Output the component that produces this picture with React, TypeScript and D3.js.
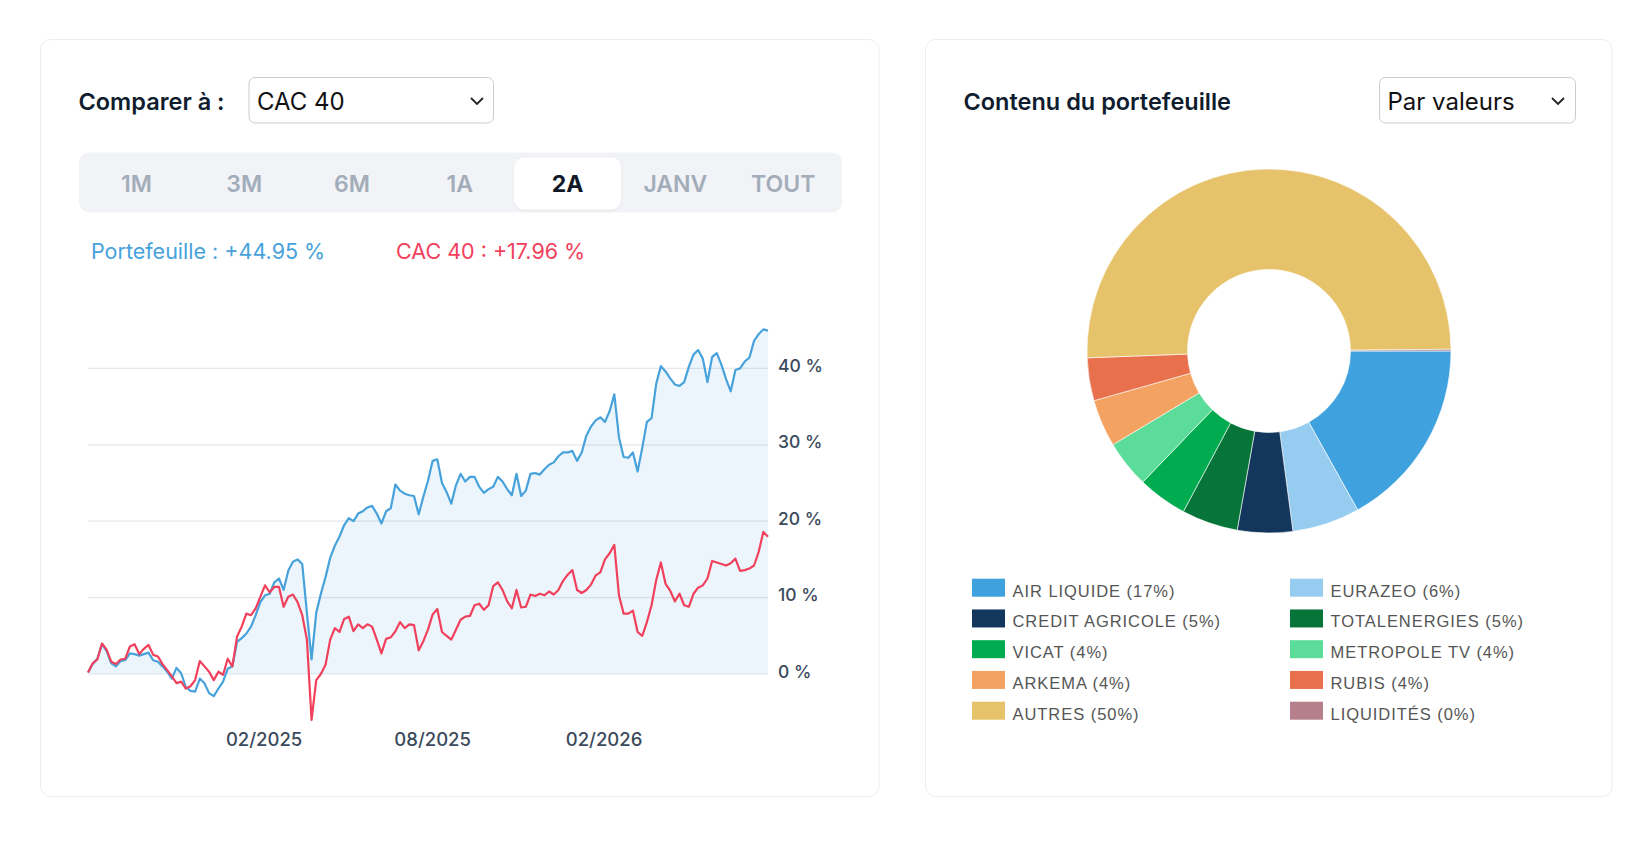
import * as d3 from 'd3';

// Performance sur 2 ans (en %), un point tous les 5 jours
const START = new Date(2024, 6, 27);
const STEP_DAYS = 5;

const portfolio = [
  0.2, 1.3, 2.0, 3.9, 3.0, 1.4, 1.0, 1.7, 1.8, 2.7,
  2.6, 2.4, 2.6, 2.8, 1.8, 1.6, 1.0, 0.3, -0.6, 0.8,
  0.1, -1.7, -2.2, -2.3, -0.6, -1.2, -2.5, -2.9, -1.9, -1.0,
  0.7, 1.0, 4.2, 4.7, 5.3, 6.2, 7.7, 9.4, 10.3, 10.5,
  12.0, 12.5, 11.0, 13.5, 14.7, 15.0, 14.4, 8.0, 1.9, 8.0,
  10.5, 12.7, 15.2, 16.8, 18.0, 19.5, 20.4, 20.0, 21.0, 21.3,
  21.8, 22.0, 21.0, 19.7, 21.3, 21.7, 24.8, 24.0, 23.6, 23.4,
  23.3, 20.9, 23.2, 25.3, 27.9, 28.1, 25.0, 23.8, 22.3, 24.7,
  26.2, 25.2, 25.8, 25.8, 24.5, 23.7, 24.2, 24.5, 25.8, 25.2,
  24.2, 23.4, 26.2, 23.3, 24.0, 26.2, 26.3, 26.1, 26.8, 27.4,
  27.7, 28.5, 29.0, 29.0, 29.2, 27.9, 29.0, 31.2, 32.4, 33.2,
  33.6, 33.0, 34.4, 36.6, 31.0, 28.4, 28.3, 29.0, 26.5, 29.6,
  33.0, 33.5, 38.0, 40.3, 39.6, 38.7, 37.9, 37.7, 38.2, 40.2,
  41.8, 42.4, 41.3, 38.2, 41.5, 42.0, 40.5, 38.6, 37.0, 39.8,
  40.0, 40.9, 41.4, 43.6, 44.5, 45.1, 44.95,
];

const cac40 = [
  0.2, 1.4, 1.9, 4.0, 3.2, 1.6, 1.3, 1.9, 2.0, 3.6,
  3.9, 2.6, 3.3, 3.8, 2.5, 2.3, 1.3, 0.5, -0.3, -1.2,
  -1.0, -1.9, -1.6, -0.8, 1.7, 1.0, 0.3, -0.8, 0.3, -0.1,
  2.0, 1.0, 4.9, 6.2, 7.9, 7.7, 8.6, 10.1, 11.6, 10.7,
  11.4, 11.4, 8.8, 10.1, 10.4, 9.4, 7.7, 4.5, -6.0, -0.8,
  0.0, 1.2, 4.5, 6.0, 5.5, 7.2, 7.5, 5.6, 6.5, 6.0,
  6.5, 6.2, 4.5, 2.7, 4.6, 4.8, 5.6, 6.8, 6.0, 6.5,
  6.4, 3.1, 4.3, 5.8, 7.8, 8.5, 5.5, 5.0, 4.5, 5.8,
  7.1, 7.5, 7.6, 9.0, 9.2, 8.4, 9.0, 11.5, 12.0, 11.0,
  9.5, 8.6, 11.0, 8.7, 8.8, 10.4, 10.2, 10.5, 10.3, 10.8,
  10.4, 11.0, 12.2, 13.0, 13.6, 11.0, 10.6, 11.0, 11.7, 12.9,
  13.3, 15.0, 15.8, 16.9, 10.3, 7.9, 7.9, 8.3, 5.5, 5.0,
  6.8, 9.0, 12.3, 14.6, 11.8, 10.9, 9.5, 10.5, 9.0, 8.8,
  10.5, 11.3, 11.6, 12.5, 14.8, 14.6, 14.4, 14.2, 14.5, 15.1,
  13.5, 13.6, 13.8, 14.2, 16.0, 18.6, 17.96,
];

const xTicks = [new Date(2025, 1, 1), new Date(2025, 7, 1), new Date(2026, 1, 1)];
const yTicks = [0, 10, 20, 30, 40];

const periods = ['1M', '3M', '6M', '1A', '2A', 'JANV', 'TOUT'];
const activePeriod = '2A';

const holdings = [
  'AIR LIQUIDE', 'EURAZEO', 'CREDIT AGRICOLE', 'TOTALENERGIES', 'VICAT',
  'METROPOLE TV', 'ARKEMA', 'RUBIS', 'AUTRES', 'LIQUIDITÉS',
];
const weights = [16.9, 6.0, 4.9, 5.0, 4.4, 4.2, 4.2, 3.8, 50.45, 0.15];
const palette = [
  '#3fa1de', '#96ccf0', '#13365c', '#07753a', '#00ac4f',
  '#5cdc99', '#f4a261', '#e8704d', '#e6c36a', '#b5808b',
];

const BLUE = '#47a2dc';
const RED = '#f1405c';
const FONT = 'Inter, "Noto Sans", sans-serif';

type Pt = { date: Date; v: number };

export default function App() {
  const dates = portfolio.map((_, i) => d3.timeDay.offset(START, i * STEP_DAYS));
  const pf: Pt[] = portfolio.map((v, i) => ({ date: dates[i], v }));
  const cac: Pt[] = cac40.map((v, i) => ({ date: dates[i], v }));

  const x = d3.scaleTime()
    .domain([dates[0], dates[dates.length - 1]])
    .range([88, 768]);
  const y = d3.scaleLinear().domain([0, 40]).range([674, 368.4]);

  const line = d3.line<Pt>().x(d => x(d.date)).y(d => y(d.v));
  const area = d3.area<Pt>().x(d => x(d.date)).y0(y(0)).y1(d => y(d.v));

  const fmtPct = (v: number) => `${d3.format('+.2f')(v)} %`;

  // donut
  const pie = d3.pie<number>().sort(null)
    .startAngle(Math.PI / 2).endAngle(Math.PI / 2 + 2 * Math.PI);
  const arcs = pie(weights);
  const arc = d3.arc<d3.PieArcDatum<number>>().innerRadius(81.5).outerRadius(182);

  const tabW = 107.8;
  const tabX0 = 82.5;

  return (
    <div style={{ position: 'absolute', left: 0, top: 0 }}>
      <svg width={1648} height={842} style={{ display: 'block', fontFamily: FONT }}>
        <defs>
          <clipPath id="above-zero">
            <rect x={88} y={0} width={682} height={y(0)} />
          </clipPath>
          <filter id="tab-shadow" x="-10%" y="-20%" width="120%" height="150%">
            <feDropShadow dx="0" dy="1" stdDeviation="1.2" floodColor="#000" floodOpacity="0.06" />
          </filter>
        </defs>
        <rect width={1648} height={842} fill="#fff" />

        {/* Carte gauche */}
        <rect x={40.5} y={39.5} width={838.5} height={757} rx={10} fill="#fff" stroke="#eceef0" />
        <text x={78.5} y={110} fontSize={23.5} fontWeight={600} fill="#0f1c2e">Comparer à :</text>
        <rect x={249} y={77.5} width={244.5} height={45.5} rx={6} fill="#fff" stroke="#c9cdd2" />
        <text x={257} y={109.5} fontSize={24} fill="#111">CAC 40</text>
        <path d="M471 98 L477 104 L483 98" fill="none" stroke="#222" strokeWidth={1.8} />

        {/* Périodes */}
        <rect x={79} y={152.5} width={763} height={60} rx={10} fill="#f1f3f6" />
        {periods.map((p, i) => {
          const cx = tabX0 + tabW * i + tabW / 2;
          const active = p === activePeriod;
          return (
            <g key={p}>
              {active && (
                <rect x={cx - 53.5} y={157.5} width={107} height={52} rx={10} fill="#fff" filter="url(#tab-shadow)" />
              )}
              <text x={cx} y={191.5} textAnchor="middle" fontSize={23}
                fontWeight={active ? 700 : 600} fill={active ? '#101828' : '#a3adba'}>{p}</text>
            </g>
          );
        })}

        {/* Légende du graphique */}
        <text x={91} y={259} fontSize={21.5} fill={BLUE}>
          Portefeuille : {fmtPct(portfolio[portfolio.length - 1])}
        </text>
        <text x={396} y={259} fontSize={21.5} fill={RED}>
          CAC 40 : {fmtPct(cac40[cac40.length - 1])}
        </text>

        {/* Grille */}
        {yTicks.map(t => (
          <g key={t}>
            <line x1={88} x2={768} y1={y(t)} y2={y(t)} stroke="#e6e8eb" strokeWidth={1.2} />
            <text x={778} y={y(t) + 3.5} fontSize={17.5} fontWeight={500} fill="#3b4a5c">{t} %</text>
          </g>
        ))}
        {xTicks.map(t => (
          <text key={+t} x={x(t)} y={746} textAnchor="middle" fontSize={18.5} fontWeight={500} fill="#3b4a5c">
            {d3.timeFormat('%m/%Y')(t)}
          </text>
        ))}

        {/* Séries */}
        <path d={area(pf) ?? ''} fill="rgba(71,162,220,0.11)" clipPath="url(#above-zero)" />
        <path d={line(pf) ?? ''} fill="none" stroke={BLUE} strokeWidth={2.2} strokeLinejoin="round" />
        <path d={line(cac) ?? ''} fill="none" stroke={RED} strokeWidth={2.2} strokeLinejoin="round" />

        {/* Carte droite */}
        <rect x={925.5} y={39.5} width={686.5} height={757} rx={10} fill="#fff" stroke="#eceef0" />
        <text x={963.5} y={110} fontSize={23.5} fontWeight={600} fill="#0f1c2e">Contenu du portefeuille</text>
        <rect x={1379.5} y={77.5} width={196} height={45.5} rx={6} fill="#fff" stroke="#c9cdd2" />
        <text x={1387.5} y={109.5} fontSize={24} fill="#111">Par valeurs</text>
        <path d="M1552 98 L1558 104 L1564 98" fill="none" stroke="#222" strokeWidth={1.8} />

        <g transform="translate(1269,351)">
          {arcs.map((a, i) => (
            <path key={holdings[i]} d={arc(a) ?? ''} fill={palette[i]} stroke="#fff" strokeWidth={0.6} />
          ))}
        </g>

        {holdings.map((h, i) => {
          const col = i % 2;
          const row = Math.floor(i / 2);
          const sx = col === 0 ? 972 : 1290;
          const base = 596.7 + row * 30.75;
          return (
            <g key={h}>
              <rect x={sx} y={base - 18} width={33} height={18} fill={palette[i]} />
              <text x={sx + 40.5} y={base} fontSize={16.5} letterSpacing={0.95}
                fontFamily='"Liberation Sans", Arial, sans-serif' fill="#555">
                {h} ({Math.round(weights[i])}%)
              </text>
            </g>
          );
        })}
      </svg>
    </div>
  );
}
